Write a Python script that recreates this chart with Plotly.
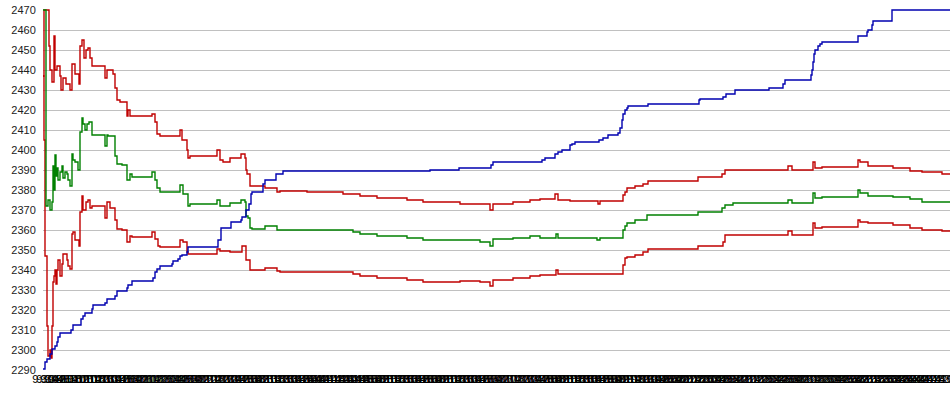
import plotly.graph_objects as go

# ---- data: (sample index, price) pairs per series ----
BLUE = [(0, 2290.5), (2, 2294), (4, 2295.5), (7, 2298), (9, 2300.5), (12, 2302), (14, 2304), (15, 2306.5),
        (17, 2308.5), (28, 2310), (30, 2312.5), (38, 2315.5), (40, 2317), (42, 2318.5), (49, 2320.5),
        (50, 2322.5), (62, 2323.5), (64, 2325.5), (72, 2327), (74, 2329.5), (84, 2331), (85, 2332.5),
        (89, 2334.5), (110, 2336), (112, 2339), (114, 2340.5), (117, 2342), (129, 2343), (130, 2344.5),
        (135, 2345.5), (137, 2347), (139, 2347.5), (144, 2349), (145, 2351.5), (175, 2355), (178, 2361),
        (188, 2364), (198, 2365), (199, 2366.5), (203, 2370), (206, 2373), (208, 2378), (209, 2379),
        (220, 2383), (222, 2385), (233, 2388), (240, 2389.5), (387, 2390), (416, 2391), (448, 2392.5),
        (450, 2394), (499, 2395), (502, 2396), (512, 2398), (515, 2399), (519, 2400), (527, 2402.5),
        (529, 2403), (532, 2404), (556, 2405), (560, 2406), (565, 2407.5), (575, 2408.5), (577, 2411),
        (579, 2415), (580, 2418), (582, 2420), (584, 2421), (585, 2422), (605, 2423), (656, 2425),
        (657, 2425.5), (680, 2426.5), (683, 2428), (692, 2430), (726, 2431), (740, 2433), (742, 2435),
        (768, 2437.5), (769, 2440), (770, 2444), (771, 2448), (772, 2450), (775, 2452), (777, 2453),
        (779, 2454), (815, 2457), (824, 2459), (825, 2460), (829, 2462.5), (830, 2464.5), (849, 2470),
        (907, 2470)]

MID = [(0, 2470), (3, 2372), (5, 2375), (7, 2370), (9, 2374), (10, 2392), (11, 2380), (12, 2397.5),
       (13, 2387), (14, 2391), (15, 2385), (17, 2389), (19, 2392), (20, 2386), (22, 2389), (24, 2388),
       (25, 2385), (27, 2382), (29, 2398), (30, 2395), (32, 2394), (35, 2390), (37, 2409), (39, 2416),
       (40, 2413), (42, 2410), (44, 2413), (46, 2414), (49, 2407.5), (62, 2402), (64, 2407.5), (65, 2407),
       (72, 2397), (74, 2393), (79, 2392.5), (84, 2385), (87, 2388), (89, 2386.5), (109, 2389), (112, 2385),
       (114, 2381), (117, 2379), (137, 2382.5), (140, 2378), (145, 2372), (147, 2373), (174, 2375),
       (177, 2372), (187, 2373.5), (198, 2375), (202, 2374), (203, 2367), (205, 2366), (207, 2361),
       (209, 2360.5), (222, 2362), (234, 2360), (310, 2359), (317, 2358), (334, 2357), (364, 2356),
       (380, 2355), (437, 2354), (447, 2352), (450, 2355.5), (470, 2356), (487, 2357), (497, 2356),
       (513, 2358), (515, 2356), (554, 2355), (557, 2356), (580, 2360), (582, 2362), (584, 2363.5),
       (592, 2365), (604, 2367.5), (655, 2369), (679, 2371), (682, 2372.5), (690, 2373.5), (745, 2375),
       (749, 2373.5), (770, 2378.5), (772, 2376), (779, 2376.5), (815, 2380), (817, 2378.5), (825, 2377),
       (850, 2376.5), (867, 2375.5), (879, 2374), (907, 2374)]

UPPER = [(0, 2437), (1, 2470), (5, 2470), (6, 2452), (7, 2440), (9, 2434), (11, 2457), (12, 2440),
         (14, 2442), (17, 2437), (18, 2430), (20, 2436), (23, 2433), (27, 2430), (29, 2443), (32, 2438),
         (36, 2433), (37, 2452), (39, 2455), (41, 2446), (43, 2450), (45, 2451), (47, 2446), (49, 2442),
         (62, 2436), (64, 2440), (70, 2438), (72, 2431), (74, 2425), (77, 2424), (84, 2417), (85, 2420),
         (87, 2417), (109, 2418), (112, 2414), (114, 2408), (117, 2407), (137, 2410), (139, 2405),
         (144, 2400), (145, 2396), (147, 2397), (174, 2400), (177, 2395), (180, 2394), (187, 2396),
         (198, 2398), (202, 2396), (203, 2390), (204, 2388), (207, 2382), (222, 2381), (234, 2379),
         (237, 2379.5), (264, 2379), (300, 2378), (317, 2377), (334, 2376), (364, 2375), (380, 2374),
         (417, 2373), (447, 2370), (450, 2373), (470, 2374), (487, 2375), (497, 2375.5), (512, 2378),
         (515, 2375), (527, 2374.5), (555, 2373), (557, 2374.5), (580, 2377.5), (582, 2379), (584, 2381),
         (592, 2382), (600, 2383), (605, 2384.5), (655, 2386.5), (679, 2388), (682, 2390), (745, 2392),
         (749, 2390), (770, 2394), (772, 2391), (779, 2391.5), (815, 2395), (817, 2394), (825, 2392),
         (850, 2391), (867, 2389.5), (879, 2389), (899, 2388), (907, 2388)]

LOWER = [(0, 2437), (1, 2405), (2, 2347), (4, 2312), (5, 2297), (7, 2300), (8, 2296), (9, 2312),
         (10, 2334), (11, 2337), (12, 2340), (13, 2333), (14, 2340), (15, 2345), (17, 2337), (19, 2343),
         (20, 2348), (24, 2345), (25, 2342), (27, 2340.5), (29, 2358), (30, 2359), (32, 2355), (36, 2352),
         (37, 2369), (39, 2377), (40, 2370), (43, 2374), (45, 2375), (47, 2371), (49, 2372), (62, 2366),
         (64, 2374), (67, 2371), (72, 2365), (74, 2360.5), (79, 2360), (84, 2354), (87, 2357),
         (89, 2356.5), (109, 2359), (112, 2355.5), (115, 2352), (117, 2351.5), (137, 2355), (140, 2354),
         (144, 2349), (145, 2348), (174, 2350.5), (177, 2349.5), (187, 2349), (199, 2352), (203, 2345),
         (205, 2345), (207, 2340), (222, 2341), (234, 2339.5), (237, 2339), (310, 2338), (317, 2337),
         (334, 2336), (364, 2335), (380, 2334), (417, 2334.5), (437, 2334), (447, 2332), (450, 2335),
         (470, 2336), (487, 2337), (497, 2337.5), (513, 2340), (515, 2338), (580, 2342.5), (582, 2346),
         (584, 2346.5), (592, 2347.5), (600, 2349), (605, 2350.5), (655, 2352), (680, 2354), (682, 2357.5),
         (745, 2359.5), (749, 2357.5), (770, 2363.5), (772, 2361), (779, 2361.5), (815, 2365), (817, 2364),
         (825, 2363.5), (850, 2362.5), (867, 2361), (879, 2360), (899, 2359.5), (907, 2359.5)]

TICK_VALS = list(range(0, 908, 4))
TICK_LABELS = ["%d:%02d" % ((570 + v) // 60, (570 + v) % 60) for v in TICK_VALS]

SERIES = [(UPPER, "#c00000"), (LOWER, "#c00000"), (MID, "#008000"), (BLUE, "#0000b0")]

fig = go.Figure()
for pts, col in SERIES:
    fig.add_trace(go.Scatter(x=[p[0] for p in pts], y=[p[1] for p in pts], mode="lines",
                             line=dict(color=col, width=1.4, shape="hv"), hoverinfo="skip"))

fig.update_layout(
    width=950, height=395,
    margin=dict(l=43, r=0, t=9, b=24, autoexpand=False),
    paper_bgcolor="white", plot_bgcolor="white",
    showlegend=False,
    font=dict(family="Liberation Sans, Arial, sans-serif", size=11, color="#222222"),
)
fig.update_xaxes(range=[0, 907], tickmode="array", tickvals=TICK_VALS, ticktext=TICK_LABELS,
                 tickangle=0, showgrid=False, zeroline=False, showline=False, ticks="", automargin=False,
                 ticklabeloverflow="allow", tickfont=dict(size=11, color="#000000"))
fig.update_yaxes(range=[2289.5, 2470.5], tick0=2290, dtick=10, showgrid=True, gridcolor="#c0c0c0",
                 gridwidth=1, zeroline=False, showline=False, ticks="outside", ticklen=4, automargin=False,
                 ticklabeloverflow="allow", tickcolor="rgba(0,0,0,0)",
                 tickfont=dict(size=11, color="#222222"))

# remove the default 8px page margin so the chart sits at the window's top-left corner
fig.write_html("out.html", config={"displayModeBar": False},
               post_script="document.body.style.margin='0';")
